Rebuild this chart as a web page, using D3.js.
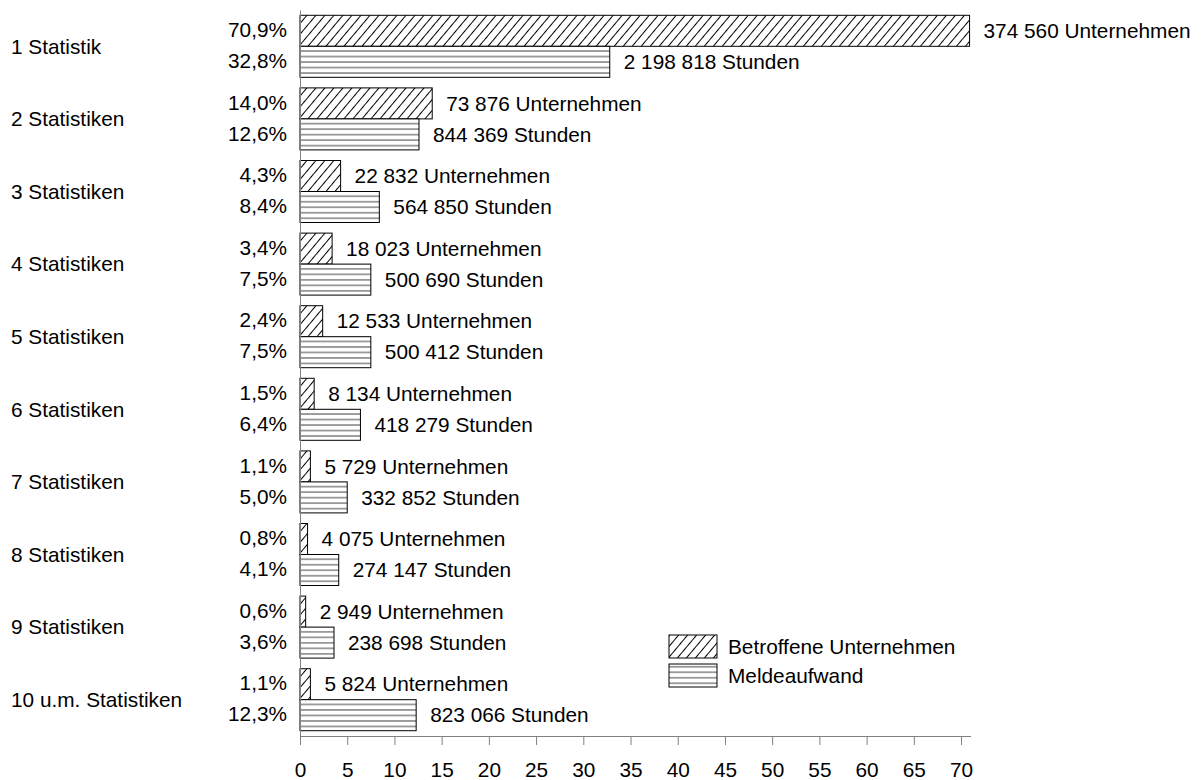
<!DOCTYPE html>
<html><head><meta charset="utf-8">
<script src="https://cdn.jsdelivr.net/npm/d3@7"></script>
<style>
html,body{margin:0;padding:0;background:#fff;}
svg text{font-family:"Liberation Sans",Arial,sans-serif;fill:#000;}
</style></head>
<body>
<svg id="chart" width="1202" height="780"></svg>
<script>
const categories = ["1 Statistik","2 Statistiken","3 Statistiken","4 Statistiken","5 Statistiken","6 Statistiken","7 Statistiken","8 Statistiken","9 Statistiken","10 u.m. Statistiken"];
const pctUnternehmen = [70.9,14.0,4.3,3.4,2.4,1.5,1.1,0.8,0.6,1.1];
const countUnternehmen = ["374 560","73 876","22 832","18 023","12 533","8 134","5 729","4 075","2 949","5 824"];
const pctMeldeaufwand = [32.8,12.6,8.4,7.5,7.5,6.4,5.0,4.1,3.6,12.3];
const hoursMeldeaufwand = ["2 198 818","844 369","564 850","500 690","500 412","418 279","332 852","274 147","238 698","823 066"];
const xTicks = [0,5,10,15,20,25,30,35,40,45,50,55,60,65,70];
const seriesNames = ["Betroffene Unternehmen","Meldeaufwand"];

const FS = 20.8;
const svg = d3.select("#chart");
const defs = svg.append("defs");

// diagonal hatch
const pDiag = defs.append("pattern").attr("id","diag").attr("patternUnits","userSpaceOnUse")
  .attr("width",6.9).attr("height",20).attr("patternTransform","rotate(40)");
pDiag.append("rect").attr("width",6.9).attr("height",20).attr("fill","#fff");
pDiag.append("line").attr("x1",0.5).attr("y1",0).attr("x2",0.5).attr("y2",20)
  .attr("stroke","#000").attr("stroke-width",1);

// horizontal lines
const pHor = defs.append("pattern").attr("id","hor").attr("patternUnits","userSpaceOnUse")
  .attr("width",10).attr("height",5.5);
pHor.append("rect").attr("width",10).attr("height",5.5).attr("fill","#fff");
pHor.append("line").attr("x1",0).attr("y1",2.75).attr("x2",10).attr("y2",2.75)
  .attr("stroke","#444").attr("stroke-width",1);

const x = d3.scaleLinear().domain([0,71]).range([300,970.5]);
const y = d3.scaleBand().domain(categories).range([10,736]).paddingInner(0.146).paddingOuter(0.073);
const sub = d3.scaleBand().domain(seriesNames).range([0,y.bandwidth()]);

const rows = categories.map((c,i)=>({c, pu:pctUnternehmen[i], cu:countUnternehmen[i], pm:pctMeldeaufwand[i], hm:hoursMeldeaufwand[i]}));

const g = svg.append("g");
const grp = g.selectAll("g.grp").data(rows).join("g").attr("class","grp")
  .attr("transform", d=>`translate(0,${y(d.c)})`);

// bars
grp.append("rect").attr("x",x(0)).attr("y",sub(seriesNames[0])).attr("width",d=>x(d.pu)-x(0))
  .attr("height",sub.bandwidth()).attr("fill","url(#diag)").attr("stroke","#000").attr("stroke-width",1);
grp.append("rect").attr("x",x(0)).attr("y",sub(seriesNames[1])).attr("width",d=>x(d.pm)-x(0))
  .attr("height",sub.bandwidth()).attr("fill","url(#hor)").attr("stroke","#000").attr("stroke-width",1);

// percent labels
grp.append("text").attr("x",287).attr("y",sub(seriesNames[0])+sub.bandwidth()/2).attr("dy","0.3em")
  .attr("text-anchor","end").style("font-size",FS+"px").text(d=>d3.format(".1f")(d.pu).replace(".",",")+"%");
grp.append("text").attr("x",287).attr("y",sub(seriesNames[1])+sub.bandwidth()/2).attr("dy","0.3em")
  .attr("text-anchor","end").style("font-size",FS+"px").text(d=>d3.format(".1f")(d.pm).replace(".",",")+"%");

// value labels
grp.append("text").attr("x",d=>x(d.pu)+14).attr("y",sub(seriesNames[0])+sub.bandwidth()/2).attr("dy","0.35em")
  .style("font-size",FS+"px").text(d=>d.cu+" Unternehmen");
grp.append("text").attr("x",d=>x(d.pm)+14).attr("y",sub(seriesNames[1])+sub.bandwidth()/2).attr("dy","0.35em")
  .style("font-size",FS+"px").text(d=>d.hm+" Stunden");

// category labels
grp.append("text").attr("x",11).attr("y",y.bandwidth()/2).attr("dy","0.35em")
  .style("font-size",FS+"px").text(d=>d.c);

// axes
const xAxis = d3.axisBottom(x).tickValues(xTicks).tickSize(9).tickSizeOuter(0).tickPadding(17);
const gx = svg.append("g").attr("transform","translate(0,736)").call(xAxis);
gx.select(".domain").attr("stroke","#808080");
gx.selectAll(".tick line").attr("stroke","#808080");
gx.selectAll(".tick text").style("font-size",FS+"px").attr("fill","#000")
  .style("font-family","'Liberation Sans',Arial,sans-serif");

const yAxis = d3.axisLeft(y).tickValues([]).tickSizeOuter(0);
const gy = svg.append("g").attr("transform","translate(300,0)").call(yAxis);
gy.select(".domain").attr("stroke","#808080");

// legend
const legend = svg.append("g").attr("transform","translate(669,635)");
const li = legend.selectAll("g").data(seriesNames).join("g").attr("transform",(d,i)=>`translate(0,${i*29})`);
li.append("rect").attr("width",48).attr("height",23).attr("fill",(d,i)=>i===0?"url(#diag)":"url(#hor)")
  .attr("stroke","#000").attr("stroke-width",1);
li.append("text").attr("x",59).attr("y",11.5).attr("dy","0.35em").style("font-size",FS+"px").text(d=>d);
</script>
</body></html>
